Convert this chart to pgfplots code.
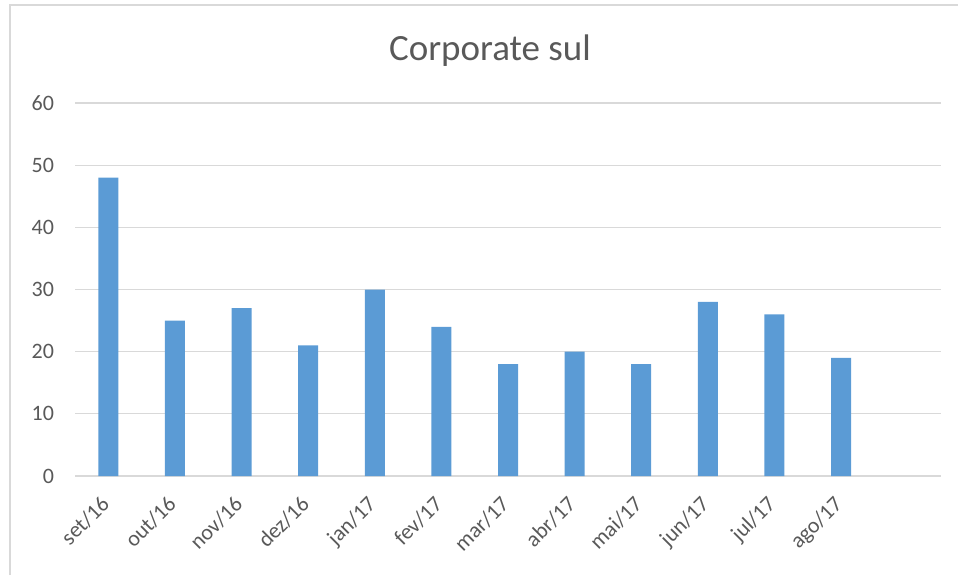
\documentclass[border=0pt]{standalone}
\usepackage{pgfplots}
\pgfplotsset{compat=1.18}
\usepackage{fontspec}
\setmainfont{Carlito}
\definecolor{barblue}{HTML}{5B9BD5}
\definecolor{gridgray}{HTML}{D9D9D9}
\definecolor{txtgray}{HTML}{595959}
\begin{document}
\begin{tikzpicture}
\useasboundingbox (0pt,0pt) rectangle (479pt,287.5pt);
\draw[gridgray, line width=0.6pt] (5pt,0pt) -- (5pt,285pt) -- (479pt,285pt);
\node[txtgray, font=\fontsize{18.5}{22}\selectfont] at (245pt,262pt) {Corporate sul};
\begin{axis}[
  at={(37.5pt,49.5pt)}, anchor=south west,
  scale only axis, width=433pt, height=186.5pt,
  xmin=-0.5, xmax=12.5, ymin=0, ymax=60,
  ytick={0,10,...,60},
  xtick={0,...,11},
  xticklabels={set/16,out/16,nov/16,dez/16,jan/17,fev/17,mar/17,abr/17,mai/17,jun/17,jul/17,ago/17},
  extra x ticks={-0.5,0.5,...,12.5},
  extra x tick labels={},
  extra x tick style={major tick length=4pt, tick style={gridgray, line width=0.8pt}, tick align=outside},
  major x tick style={draw=none},
  ytick style={draw=none},
  ymajorgrids, grid style={gridgray, line width=0.6pt},
  axis x line*=bottom, axis y line*=left,
  y axis line style={draw=none},
  x axis line style={gridgray, line width=0.8pt, -},
  tick label style={txtgray, font=\fontsize{11}{13}\selectfont},
  xticklabel style={rotate=45, anchor=north east, xshift=-6pt, yshift=0pt},
  yticklabel style={anchor=east, xshift=-7pt},
  /pgf/number format/assume math mode=true,
]
\addplot[ybar, bar width=10pt, fill=barblue, draw=none] coordinates {
(0,48) (1,25) (2,27) (3,21) (4,30) (5,24) (6,18) (7,20) (8,18) (9,28) (10,26) (11,19)};
\end{axis}
\end{tikzpicture}
\end{document}
